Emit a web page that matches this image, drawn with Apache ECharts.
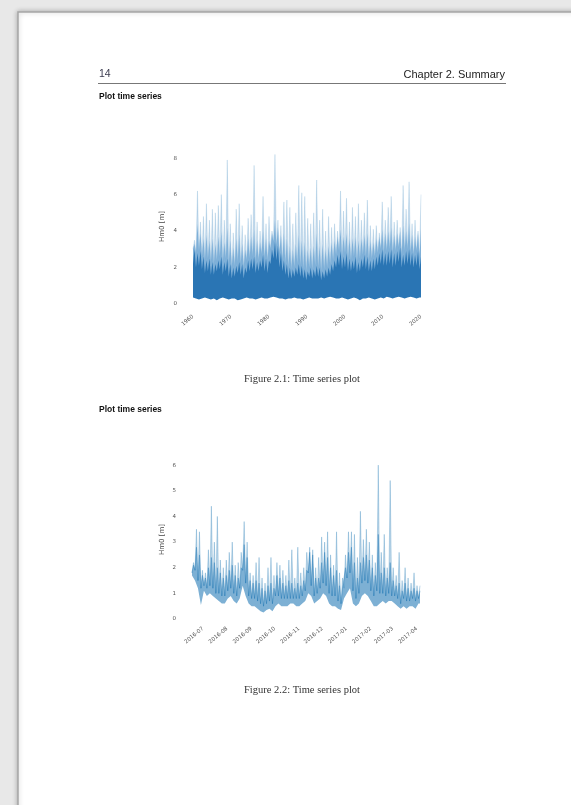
<!DOCTYPE html>
<html>
<head>
<meta charset="utf-8">
<script src="https://cdn.jsdelivr.net/npm/echarts@6/dist/echarts.min.js"></script>
<style>
  html, body { margin: 0; padding: 0; background: #e8e8e8; }
  #page { width: 571px; height: 805px; }
</style>
</head>
<body>
<div id="page"></div>
<script>
// ---- Figure 2.1: long record (decimal years) ----
const years1 = [1960, 2020];
const yTicks1 = [0, 2, 4, 6, 8];
// per-column envelopes of the hourly series: highest spikes, upper medium band, dense band top, solid core, floor
const peak1 = [3.5, 6.2, 4.5, 4.8, 5.5, 4.6, 5.2, 5.0, 5.4, 6.0, 4.6, 7.9, 4.4, 3.9, 5.2, 5.5, 4.3, 3.8, 4.7, 4.9,
  7.6, 4.5, 4.0, 5.9, 4.4, 4.8, 4.0, 8.2, 4.6, 4.3, 5.6, 5.7, 5.3, 4.4, 5.0, 6.5, 6.1, 5.9, 4.7, 4.4,
  5.0, 6.8, 4.6, 5.2, 4.0, 4.8, 4.2, 4.4, 4.0, 6.2, 5.1, 5.8, 4.5, 5.3, 4.8, 5.5, 4.6, 5.0, 5.7, 4.3,
  4.1, 4.3, 3.9, 5.6, 4.6, 5.3, 5.9, 4.5, 4.6, 4.2, 6.5, 5.2, 6.7, 4.4, 4.6, 4.0, 6.0];
const mid1 = [3.3, 4.4, 3.9, 3.6, 3.8, 3.5, 3.6, 3.3, 3.7, 4.0, 3.4, 4.2, 3.5, 3.1, 3.6, 3.8, 3.3, 3.0, 3.6, 3.7,
  4.1, 3.5, 3.4, 4.0, 3.6, 3.5, 3.9, 4.6, 4.2, 3.8, 3.9, 3.6, 3.2, 3.0, 3.3, 3.8, 3.5, 3.4, 3.0, 3.1,
  3.2, 3.9, 3.2, 3.3, 3.0, 3.2, 3.4, 3.5, 3.7, 4.1, 3.7, 3.9, 3.6, 3.6, 3.7, 3.5, 3.6, 3.8, 3.9, 3.5,
  3.4, 3.6, 3.7, 4.1, 3.9, 4.0, 4.2, 3.8, 3.9, 4.0, 4.3, 4.0, 4.4, 3.8, 3.7, 3.9, 4.1];
const band1 = [3.0, 2.8, 2.9, 2.6, 2.4, 2.5, 2.3, 2.2, 2.4, 2.6, 2.3, 2.5, 2.2, 2.0, 2.1, 2.3, 2.2, 2.0, 2.4, 2.5,
  2.6, 2.3, 2.4, 2.7, 2.5, 2.4, 3.0, 3.4, 3.2, 2.8, 2.4, 2.2, 2.0, 1.9, 2.0, 2.2, 2.1, 1.9, 1.8, 2.0,
  1.9, 2.1, 2.0, 1.8, 1.9, 2.0, 2.2, 2.4, 2.7, 2.9, 2.6, 2.8, 2.5, 2.4, 2.6, 2.3, 2.5, 2.7, 2.6, 2.4,
  2.5, 2.6, 2.8, 3.0, 2.8, 2.9, 3.0, 2.8, 2.9, 3.1, 2.7, 2.9, 3.0, 2.8, 2.7, 2.9, 2.6];
const core1 = [2.2, 2.0, 2.1, 1.9, 1.7, 1.8, 1.6, 1.6, 1.8, 1.9, 1.6, 1.8, 1.5, 1.4, 1.5, 1.7, 1.6, 1.4, 1.7, 1.8,
  1.9, 1.7, 1.8, 2.0, 1.8, 1.7, 2.2, 2.5, 2.4, 2.0, 1.8, 1.6, 1.4, 1.4, 1.5, 1.6, 1.5, 1.4, 1.3, 1.5,
  1.4, 1.5, 1.5, 1.3, 1.4, 1.5, 1.6, 1.8, 2.0, 2.1, 1.9, 2.0, 1.8, 1.8, 1.9, 1.7, 1.8, 2.0, 1.9, 1.8,
  1.8, 1.9, 2.1, 2.2, 2.1, 2.1, 2.2, 2.0, 2.1, 2.3, 2.0, 2.1, 2.2, 2.1, 2.0, 2.1, 1.9];
const floor1 = [0.35, 0.3, 0.25, 0.3, 0.35, 0.3, 0.25, 0.3, 0.2, 0.3, 0.35, 0.3, 0.25, 0.3, 0.3, 0.2, 0.25, 0.3, 0.35, 0.3,
  0.3, 0.25, 0.3, 0.35, 0.3, 0.3, 0.35, 0.4, 0.35, 0.3, 0.3, 0.25, 0.3, 0.3, 0.35, 0.3, 0.3, 0.25, 0.3, 0.35,
  0.3, 0.3, 0.3, 0.35, 0.3, 0.35, 0.4, 0.35, 0.3, 0.3, 0.35, 0.3, 0.25, 0.3, 0.35, 0.3, 0.2, 0.3, 0.3, 0.35,
  0.3, 0.25, 0.3, 0.35, 0.3, 0.4, 0.35, 0.3, 0.35, 0.4, 0.35, 0.3, 0.35, 0.4, 0.35, 0.3, 0.35];

// ---- Figure 2.2: one season (dates) ----
const dates2 = ['2016-06-17', '2017-04-05'];
const monthTicks2 = ['2016-07-01', '2016-08-01', '2016-09-01', '2016-10-01', '2016-11-01',
  '2016-12-01', '2017-01-01', '2017-02-01', '2017-03-01', '2017-04-01'];
const yTicks2 = [0, 1, 2, 3, 4, 5, 6];
const peak2 = [2.2, 3.5, 3.4, 1.9, 1.8, 2.7, 4.4, 3.0, 4.0, 2.3, 2.0, 2.3, 2.6, 3.0, 2.1, 2.2, 2.6, 3.8, 3.0, 1.8,
  1.7, 2.2, 2.4, 1.6, 1.4, 2.0, 2.4, 1.7, 2.2, 2.1, 1.9, 1.7, 2.3, 2.7, 1.6, 2.8, 1.8, 2.0, 2.6, 2.8,
  2.7, 2.0, 2.4, 3.2, 3.0, 3.4, 2.5, 2.1, 3.4, 1.8, 1.6, 2.5, 3.4, 3.4, 3.3, 2.4, 4.2, 3.1, 3.5, 3.0,
  2.5, 2.2, 6.0, 2.6, 3.3, 2.0, 5.4, 2.0, 1.7, 2.6, 1.5, 2.0, 1.6, 1.4, 1.8, 1.3, 1.3];
const coreHi2 = [2.1, 2.8, 2.5, 1.7, 1.6, 2.0, 2.4, 2.2, 2.0, 1.8, 1.6, 1.7, 1.9, 2.1, 1.7, 1.6, 2.0, 2.9, 2.4, 1.5,
  1.4, 1.5, 1.4, 1.2, 1.1, 1.3, 1.4, 1.2, 1.7, 1.6, 1.4, 1.3, 1.5, 1.4, 1.2, 1.4, 1.3, 1.5, 1.9, 2.6,
  2.5, 1.6, 1.6, 2.2, 2.6, 2.4, 2.0, 1.7, 1.9, 1.3, 1.2, 2.0, 2.6, 2.8, 2.2, 1.6, 2.2, 2.4, 2.5, 2.3,
  2.0, 1.7, 3.3, 1.8, 2.0, 1.6, 2.2, 1.5, 1.3, 1.4, 1.1, 1.4, 1.2, 1.1, 1.2, 1.1, 1.1];
const coreLo2 = [1.8, 1.9, 1.5, 1.2, 1.3, 1.2, 1.3, 1.2, 1.0, 1.0, 0.9, 0.9, 1.1, 1.2, 1.0, 0.9, 1.2, 1.9, 1.4, 0.9,
  0.8, 0.8, 0.7, 0.6, 0.5, 0.6, 0.7, 0.6, 0.9, 0.9, 0.8, 0.8, 0.8, 0.8, 0.8, 0.8, 0.8, 0.9, 1.1, 1.8,
  1.3, 0.9, 1.0, 1.2, 1.4, 1.3, 1.0, 0.9, 0.9, 0.7, 0.6, 1.2, 1.6, 1.8, 1.1, 0.8, 1.0, 1.4, 1.5, 1.4,
  1.1, 0.9, 1.1, 1.0, 1.0, 0.9, 1.0, 0.9, 0.9, 0.8, 0.6, 0.8, 0.7, 0.7, 0.8, 0.7, 0.8];
const floor2 = [1.7, 1.5, 1.2, 0.55, 1.1, 0.9, 1.0, 0.9, 0.8, 0.7, 0.6, 0.6, 0.8, 0.9, 0.7, 0.6, 0.8, 1.3, 0.9, 0.6,
  0.5, 0.5, 0.4, 0.3, 0.25, 0.35, 0.4, 0.3, 0.5, 0.6, 0.5, 0.5, 0.5, 0.6, 0.6, 0.5, 0.5, 0.6, 0.7, 1.0,
  0.9, 0.6, 0.7, 0.8, 1.0, 0.9, 0.6, 0.5, 0.5, 0.4, 0.35, 0.8, 1.0, 1.2, 0.6, 0.5, 0.6, 0.9, 1.0, 0.9,
  0.7, 0.5, 0.5, 0.6, 0.7, 0.6, 0.7, 0.7, 0.6, 0.5, 0.4, 0.5, 0.4, 0.5, 0.5, 0.4, 0.6];

// Sawtooth between per-column low and high readings across the time span
function trace(start, end, lows, highs) {
  const step = (end - start) / (lows.length - 0.5);
  const out = [];
  for (let i = 0; i < lows.length; i++) {
    out.push([start + i * step, lows[i]]);
    out.push([start + (i + 0.5) * step, highs[i]]);
  }
  return out;
}
// Polyline through one reading per column, same spacing as trace(), carried just past the
// end of the span (the grid clips it) so its fill closes cleanly at the right edge
function level(start, end, vals) {
  const step = (end - start) / (vals.length - 0.5);
  const out = vals.map((v, i) => [start + i * step, v]);
  out.push([end + step, vals[vals.length - 1]]);
  return out;
}

const t2a = +new Date(dates2[0] + 'T00:00:00Z');
const t2b = +new Date(dates2[1] + 'T00:00:00Z');
const monthMs = monthTicks2.map(d => +new Date(d + 'T00:00:00Z'));
const monthLabel = v => {
  const d = new Date(v);
  return d.getUTCFullYear() + '-' + String(d.getUTCMonth() + 1).padStart(2, '0');
};

const axisText = { color: '#555', fontSize: 5.5, fontFamily: 'DejaVu Sans' };
const nameText = { color: '#444', fontSize: 7, fontFamily: 'DejaVu Sans' };

// Filled trace; the floor series drawn last in page white trims everything under the lowest readings
function filled(idx, data, fill, stroke, z) {
  return {
    type: 'line', xAxisIndex: idx, yAxisIndex: idx, data: data,
    showSymbol: false, symbol: 'none', silent: true, animation: false, z: z,
    lineStyle: { color: stroke || fill, width: stroke ? 0.6 : 0 },
    areaStyle: { color: fill, opacity: 1 },
    clip: true
  };
}

const hidden = { axisLine: { show: false }, axisTick: { show: false }, splitLine: { show: false } };

const chart = echarts.init(document.getElementById('page'), null, { renderer: 'canvas' });
chart.setOption({
  backgroundColor: '#e8e8e8',
  animation: false,
  graphic: [
    { type: 'rect', z: -10, shape: { x: 18, y: 12, width: 560, height: 800 },
      style: { fill: '#ffffff', stroke: '#a6a6a6', lineWidth: 1.5, shadowBlur: 5, shadowColor: 'rgba(0,0,0,0.25)' } },
    { type: 'text', left: 99, top: 69, style: { text: '14', fill: '#3b3b4f', font: '10.5px "Liberation Sans"' } },
    { type: 'text', right: 66, top: 69, style: { text: 'Chapter 2. Summary', fill: '#222', font: '11px "Liberation Sans"' } },
    { type: 'line', shape: { x1: 98, y1: 83.5, x2: 506, y2: 83.5 }, style: { stroke: '#777', lineWidth: 1 } },
    { type: 'text', left: 99, top: 92, style: { text: 'Plot time series', fill: '#111', font: 'bold 8.5px "Liberation Sans"' } },
    { type: 'text', left: 99, top: 405, style: { text: 'Plot time series', fill: '#111', font: 'bold 8.5px "Liberation Sans"' } },
    { type: 'text', x: 302, y: 379, style: { text: 'Figure 2.1: Time series plot', fill: '#333', font: '10.5px "Liberation Serif"', align: 'center', verticalAlign: 'middle' } },
    { type: 'text', x: 302, y: 690, style: { text: 'Figure 2.2: Time series plot', fill: '#333', font: '10.5px "Liberation Serif"', align: 'center', verticalAlign: 'middle' } }
  ],
  grid: [
    { left: 193, top: 149, width: 228, height: 155 },
    { left: 192, top: 460, width: 228, height: 159 }
  ],
  xAxis: [
    Object.assign({ gridIndex: 0, type: 'value', min: years1[0], max: years1[1], interval: 10,
      axisLabel: Object.assign({ rotate: 40, margin: 12, formatter: v => String(v) }, axisText) }, hidden),
    Object.assign({ gridIndex: 1, type: 'value', min: t2a, max: t2b, scale: true,
      axisLabel: Object.assign({ rotate: 40, margin: 9, customValues: monthMs, formatter: monthLabel }, axisText) }, hidden)
  ],
  yAxis: [
    Object.assign({ gridIndex: 0, type: 'value', min: 0, max: 8.5,
      name: 'Hm0 [m]', nameLocation: 'middle', nameGap: 27, nameTextStyle: nameText,
      axisLabel: Object.assign({ margin: 16, customValues: yTicks1 }, axisText) }, hidden),
    Object.assign({ gridIndex: 1, type: 'value', min: 0, max: 6.2,
      name: 'Hm0 [m]', nameLocation: 'middle', nameGap: 26, nameTextStyle: nameText,
      axisLabel: Object.assign({ margin: 16, customValues: yTicks2 }, axisText) }, hidden)
  ],
  series: [
    filled(0, trace(years1[0], years1[1], band1, peak1), '#c9ddee', 'rgba(31,119,180,0.25)', 2),
    filled(0, trace(years1[0], years1[1], band1, mid1), '#7fb0d8', null, 3),
    filled(0, trace(years1[0], years1[1], core1, band1), '#2a75b4', null, 4),
    filled(0, level(years1[0], years1[1], floor1), '#ffffff', null, 5),
    filled(1, trace(t2a, t2b, coreLo2, peak2), 'rgba(31,119,180,0.28)', 'rgba(31,119,180,0.45)', 2),
    filled(1, trace(t2a, t2b, coreLo2, coreHi2), 'rgba(31,119,180,0.42)', 'rgba(31,119,180,0.6)', 3),
    filled(1, level(t2a, t2b, floor2), '#ffffff', null, 5)
  ]
});
</script>
</body>
</html>
